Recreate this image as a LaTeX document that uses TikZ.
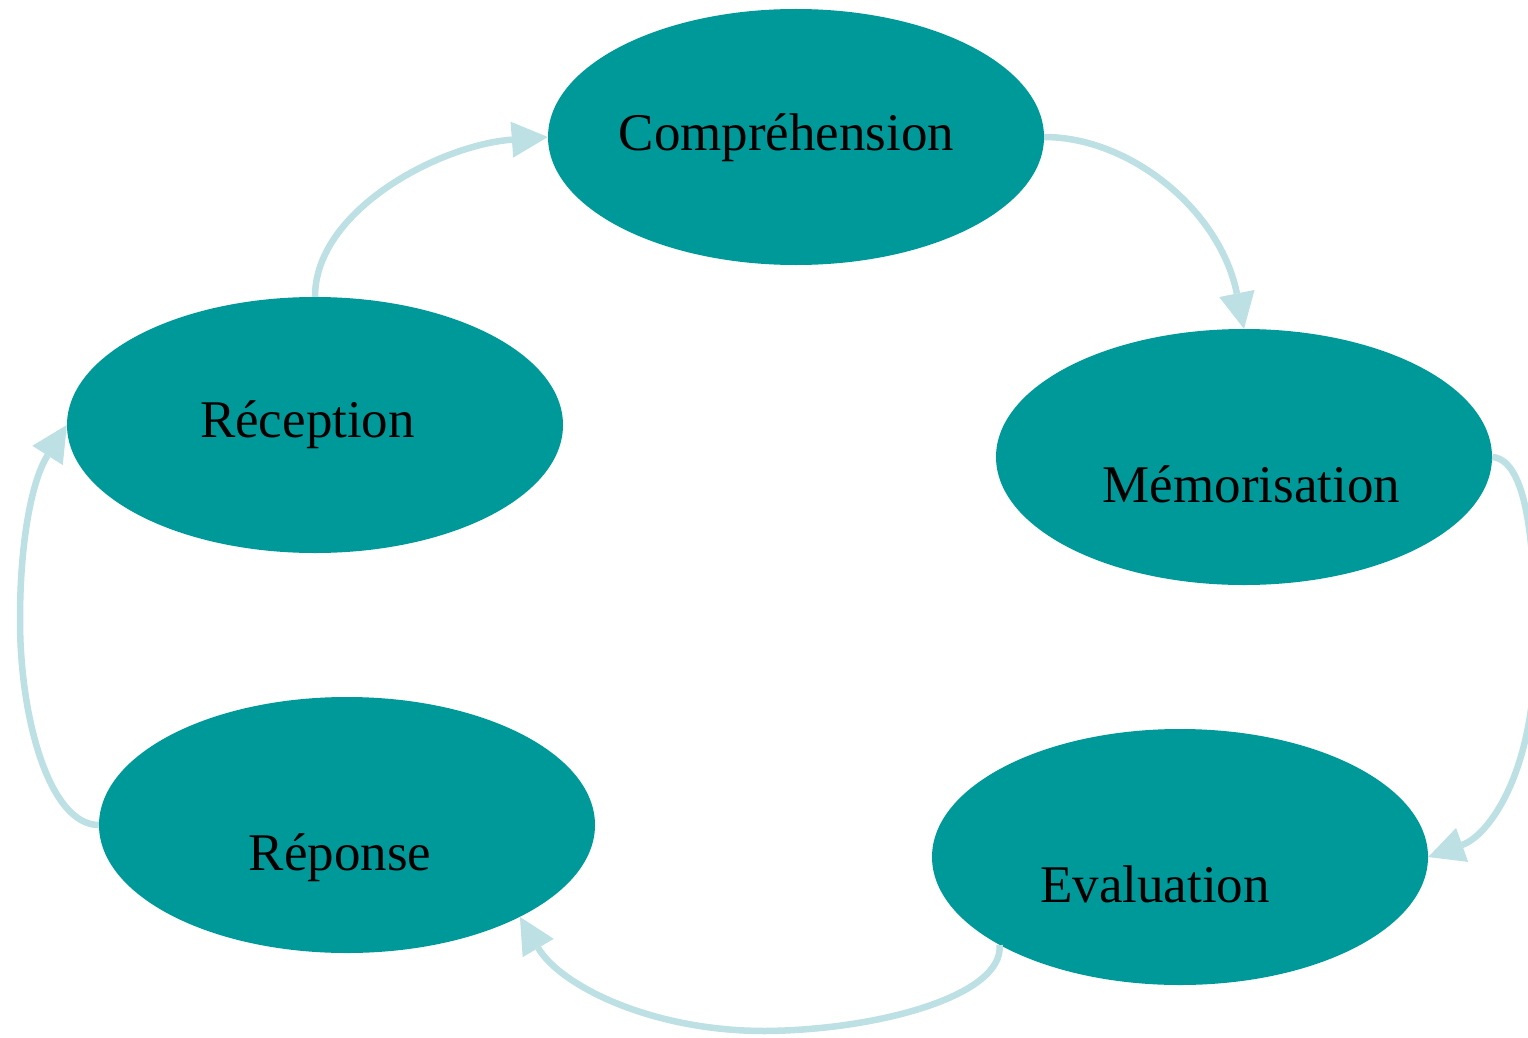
\documentclass[tikz,border=0pt]{standalone}
\usepackage{fontspec}
\setmainfont{Liberation Serif}
\usetikzlibrary{shapes.geometric,arrows.meta}
\definecolor{nodeteal}{HTML}{009999}
\definecolor{edgeblue}{HTML}{BCE0E3}
\tikzset{
  stage/.style={ellipse, fill=nodeteal, draw=none, minimum width=496pt, minimum height=256pt, inner sep=0pt},
  lbl/.style={anchor=base, inner sep=0pt, text=black, font=\fontsize{53}{60}\selectfont},
  flow/.style={draw=edgeblue, line width=6.5pt, -{Triangle[length=36pt,width=36pt,line width=0pt]}}
}
\begin{document}
\begin{tikzpicture}[x=1pt,y=-1pt]
\useasboundingbox (0,0) rectangle (1528,1038);
\fill[white] (0,0) rectangle (1528,1038);
\node[stage] (comp) at (796,137) {};
\node[stage] (rec) at (315,425) {};
\node[stage] (mem) at (1244,457) {};
\node[stage] (eval) at (1180,857) {};
\node[stage] (rep) at (347,825) {};
\node[lbl] (tcomp) at (786.5,150) {Compréhension};
\node[lbl] (trec) at (307.5,437) {Réception};
\node[lbl] (tmem) at (1251.5,502) {Mémorisation};
\node[lbl] (teval) at (1155,902) {Evaluation};
\node[lbl] (trep) at (340,870) {Réponse};
\begin{scope}
\clip (0,0) rectangle (1528,1038);
\draw[flow] (rec.north) .. controls (315,210) and (440,145) .. (comp.west);
\draw[flow] (comp.east) .. controls (1130,137) and (1220,210) .. (mem.north);
\draw[flow] (mem.east) .. controls (1532,460) and (1535,570) .. (1535,650) .. controls (1535,770) and (1490,835) .. (eval.east);
\draw[flow] (eval.206) .. controls (1004,995) and (880,1030) .. (765,1031) .. controls (650,1031) and (560,985) .. (rep.332);
\draw[flow] (rep.west) .. controls (50,825) and (20,720) .. (20,620) .. controls (20,540) and (32,480) .. (rec.west);
\end{scope}
\end{tikzpicture}
\end{document}
